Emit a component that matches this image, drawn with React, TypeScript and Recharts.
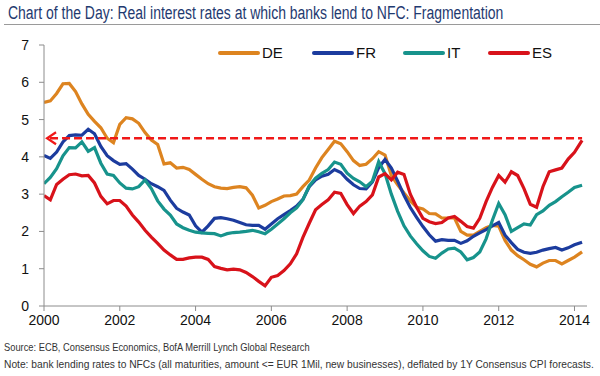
import { Line, LineChart, ReferenceLine, XAxis, YAxis } from "recharts";

// bi-monthly observations, decimal years
const dates = [
  2000, 2000.167, 2000.333, 2000.5, 2000.667, 2000.833,
  2001, 2001.167, 2001.333, 2001.5, 2001.667, 2001.833,
  2002, 2002.167, 2002.333, 2002.5, 2002.667, 2002.833,
  2003, 2003.167, 2003.333, 2003.5, 2003.667, 2003.833,
  2004, 2004.167, 2004.333, 2004.5, 2004.667, 2004.833,
  2005, 2005.167, 2005.333, 2005.5, 2005.667, 2005.833,
  2006, 2006.167, 2006.333, 2006.5, 2006.667, 2006.833,
  2007, 2007.167, 2007.333, 2007.5, 2007.667, 2007.833,
  2008, 2008.167, 2008.333, 2008.5, 2008.667, 2008.833,
  2009, 2009.167, 2009.333, 2009.5, 2009.667, 2009.833,
  2010, 2010.167, 2010.333, 2010.5, 2010.667, 2010.833,
  2011, 2011.167, 2011.333, 2011.5, 2011.667, 2011.833,
  2012, 2012.167, 2012.333, 2012.5, 2012.667, 2012.833,
  2013, 2013.167, 2013.333, 2013.5, 2013.667, 2013.833,
  2014, 2014.2,
];

const de = [
  5.46, 5.5, 5.7, 5.96, 5.97, 5.75,
  5.42, 5.14, 4.95, 4.78, 4.5, 4.38,
  4.87, 5.05, 5.02, 4.9, 4.65, 4.45,
  4.33, 3.81, 3.84, 3.7, 3.72, 3.66,
  3.53, 3.4, 3.28, 3.2, 3.16, 3.15,
  3.18, 3.2, 3.17, 2.97, 2.63, 2.7,
  2.8, 2.87, 2.95, 2.96, 3.0, 3.2,
  3.38, 3.7, 3.98, 4.2, 4.42, 4.35,
  4.14, 3.9, 3.77, 3.8, 3.95, 4.14,
  4.05, 3.5, 3.25, 3.03, 2.82, 2.65,
  2.6, 2.48, 2.47, 2.36, 2.36, 2.36,
  2.0, 1.9, 1.9, 2.0, 2.1, 2.16,
  2.14, 1.76, 1.5, 1.35, 1.24, 1.12,
  1.05, 1.15, 1.22, 1.22, 1.13, 1.22,
  1.31, 1.45,
];

const fr = [
  4.04, 3.96, 4.13, 4.4, 4.57, 4.59,
  4.58, 4.74, 4.62, 4.28, 4.03, 3.9,
  3.8, 3.82, 3.67, 3.5, 3.4, 3.28,
  3.2, 3.1, 2.84, 2.62, 2.52, 2.44,
  2.15, 1.98, 2.15, 2.35, 2.37, 2.34,
  2.3, 2.24, 2.18, 2.16, 2.16, 2.06,
  2.2, 2.34, 2.45, 2.56, 2.68, 2.86,
  3.2, 3.38, 3.48, 3.53, 3.66, 3.58,
  3.4, 3.25, 3.15, 3.14, 3.33, 3.71,
  3.93, 3.7, 3.35, 2.97, 2.64, 2.38,
  2.13, 1.91, 1.74, 1.78, 1.76, 1.76,
  1.68, 1.75, 1.87, 1.96, 2.05, 2.15,
  2.24, 1.9, 1.7, 1.52, 1.44, 1.41,
  1.44, 1.5, 1.54, 1.57, 1.5, 1.56,
  1.64, 1.71,
];

const it = [
  3.28, 3.45, 3.68, 4.03, 4.25, 4.24,
  4.4, 4.15, 4.25, 3.83, 3.54, 3.5,
  3.3, 3.16, 3.14, 3.2, 3.38, 3.15,
  2.82, 2.6, 2.44, 2.2, 2.1, 2.03,
  1.98, 1.96, 1.95, 1.94, 1.88, 1.94,
  1.97, 1.98, 2.0, 2.03, 1.99, 1.94,
  2.06, 2.2, 2.34, 2.5, 2.63, 2.85,
  3.22, 3.43, 3.56, 3.66, 3.86, 3.8,
  3.56, 3.42, 3.33, 3.2, 3.35, 3.87,
  3.55, 3.0, 2.54, 2.15, 1.88, 1.67,
  1.48, 1.33, 1.28, 1.42, 1.53, 1.55,
  1.45, 1.24, 1.3, 1.45, 1.8, 2.3,
  2.75, 2.45, 2.0, 2.1, 2.2, 2.17,
  2.45, 2.55, 2.7, 2.8, 2.93, 3.05,
  3.18, 3.24,
];

const es = [
  2.96, 2.85, 3.26, 3.4, 3.52, 3.54,
  3.49, 3.5, 3.3, 2.94, 2.74, 2.83,
  2.83, 2.68, 2.44, 2.25, 2.03, 1.85,
  1.68, 1.5, 1.37, 1.25, 1.25, 1.29,
  1.31, 1.31, 1.25, 1.06, 1.01, 0.97,
  0.99, 0.97, 0.9, 0.79, 0.66, 0.54,
  0.77, 0.82, 0.95, 1.13, 1.4, 1.84,
  2.22, 2.58, 2.72, 2.85, 3.05, 3.02,
  2.72, 2.48, 2.68, 2.8, 2.98, 3.46,
  3.55, 3.38, 3.59, 3.53, 3.0, 2.65,
  2.35, 2.26, 2.21, 2.24, 2.36, 2.4,
  2.27, 2.13, 2.09, 2.35, 2.8, 3.18,
  3.5, 3.32, 3.6, 3.5, 3.15, 2.73,
  2.65, 3.2, 3.6, 3.65, 3.7, 3.94,
  4.12, 4.44,
];

const xTicks = [2000, 2002, 2004, 2006, 2008, 2010, 2012, 2014];
const yTicks = [0, 1, 2, 3, 4, 5, 6, 7];
const threshold = 4.5;
const arrowFrom = 2000.08;
const arrowTo = 2014.2;

const SERIES = [
  { key: "DE", color: "#dd8420" },
  { key: "FR", color: "#1c3c9e" },
  { key: "IT", color: "#17938c" },
  { key: "ES", color: "#d8121a" },
];

const rows = dates.map((d, i) => ({ date: d, DE: de[i], FR: fr[i], IT: it[i], ES: es[i] }));

const AXIS_FONT = "'Liberation Sans', Arial, sans-serif";

function ArrowLine(props: any) {
  const { x1, y1, x2 } = props;
  const red = "#f01818";
  return (
    <g>
      <line x1={x1 + 3} y1={y1} x2={x2} y2={y1} stroke={red} strokeWidth={2.5} strokeDasharray="8 4" />
      <path
        d={`M${x1 + 9},${y1 - 6} L${x1},${y1} L${x1 + 9},${y1 + 6}`}
        fill="none"
        stroke={red}
        strokeWidth={2.2}
      />
    </g>
  );
}

// condensed text: squeeze a regular sans horizontally
function Narrow({ left, top, size, scale, color, children }: any) {
  return (
    <div
      style={{
        position: "absolute",
        left,
        top,
        whiteSpace: "nowrap",
        fontFamily: AXIS_FONT,
        fontSize: size,
        lineHeight: `${Math.round(size * 1.2)}px`,
        color,
        transform: `scaleX(${scale})`,
        transformOrigin: "0 0",
      }}
    >
      {children}
    </div>
  );
}

export default function App() {
  return (
    <div style={{ position: "absolute", left: 0, top: 0, width: 600, height: 376, background: "#fff" }}>
      <Narrow left={8} top={2} size={18} scale={0.776} color="#1f3a70">
        Chart of the Day: Real interest rates at which banks lend to NFC: Fragmentation
      </Narrow>
      <div style={{ position: "absolute", left: 4, top: 24, width: 596, height: 1, background: "#9a9a9a" }} />

      <LineChart
        width={600}
        height={376}
        data={rows}
        margin={{ top: 45, right: 13, bottom: 40, left: 0 }}
      >
        <XAxis
          dataKey="date"
          type="number"
          domain={[2000, 2014.33]}
          ticks={xTicks}
          allowDataOverflow
          height={30}
          tickSize={5}
          tickMargin={4}
          stroke="#8c8c8c"
          tick={{ fill: "#111", fontSize: 14, fontFamily: AXIS_FONT }}
        />
        <YAxis
          domain={[0, 7]}
          ticks={yTicks}
          width={44}
          tickSize={5}
          tickMargin={10}
          stroke="#8c8c8c"
          tick={{ fill: "#111", fontSize: 14, fontFamily: AXIS_FONT }}
        />
        {SERIES.map((s) => (
          <Line
            key={s.key}
            dataKey={s.key}
            type="linear"
            stroke={s.color}
            strokeWidth={3.2}
            dot={false}
            isAnimationActive={false}
          />
        ))}
        <ReferenceLine
          segment={[
            { x: arrowFrom, y: threshold },
            { x: arrowTo, y: threshold },
          ]}
          ifOverflow="visible"
          shape={ArrowLine}
        />
      </LineChart>

      {/* legend */}
      {SERIES.map((s, i) => (
        <div
          key={s.key}
          style={{
            position: "absolute",
            left: [218, 312, 403, 488][i],
            top: 44,
            display: "flex",
            alignItems: "center",
            fontFamily: AXIS_FONT,
            fontSize: 15,
            color: "#111",
          }}
        >
          <span style={{ display: "inline-block", width: 42, height: 4, background: s.color, borderRadius: 2, marginRight: 2 }} />
          {s.key}
        </div>
      ))}

      <Narrow left={4} top={340} size={11.5} scale={0.81} color="#333">
        Source: ECB, Consensus Economics, BofA Merrill Lynch Global Research
      </Narrow>
      <Narrow left={4} top={357} size={11.5} scale={0.89} color="#333">
        {"Note: bank lending rates to NFCs (all maturities, amount <= EUR 1Mil, new businesses), deflated by 1Y Consensus CPI forecasts."}
      </Narrow>
    </div>
  );
}
